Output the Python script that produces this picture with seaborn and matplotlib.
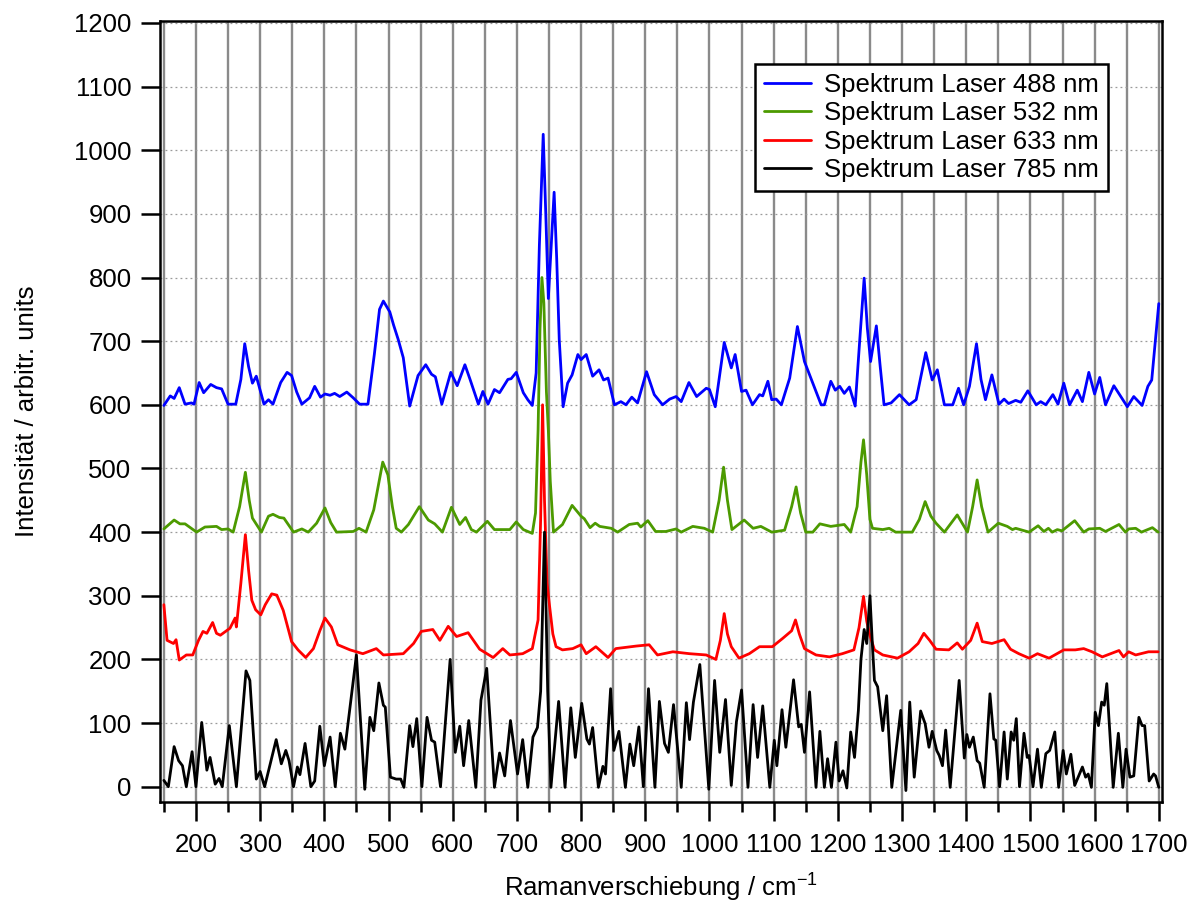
import numpy as np
import pandas as pd
import matplotlib
matplotlib.use("Agg")
import matplotlib.pyplot as plt
import seaborn as sns

# ---------------- data ----------------
labels = ["Spektrum Laser 488 nm", "Spektrum Laser 532 nm",
          "Spektrum Laser 633 nm", "Spektrum Laser 785 nm"]
colors = ["#0000FF", "#4C9A00", "#FF0000", "#000000"]

x_488 = [150, 160, 166, 174, 183, 193, 197, 205, 212, 223, 232, 240, 250, 262, 270, 276, 282, 288, 294, 306,
         313, 320, 332, 342, 349, 357, 365, 377, 385, 394, 401, 409, 416, 424, 435, 445, 455, 468, 478, 486,
         492, 502, 508, 515, 523, 533, 546, 558, 567, 573, 583, 597, 607, 619, 627, 640, 647, 655, 665, 673,
         686, 691, 699, 710, 717, 724, 730, 735, 741, 745, 749, 753, 758, 762, 766, 772, 779, 786, 795, 800,
         808, 818, 828, 835, 842, 852, 862, 870, 879, 888, 902, 914, 927, 938, 948, 956, 968, 980, 995, 1000,
         1009, 1023, 1034, 1040, 1050, 1057, 1067, 1078, 1083, 1091, 1097, 1104, 1112, 1125, 1137, 1148, 1158,
         1174, 1179, 1189, 1196, 1203, 1210, 1218, 1227, 1234, 1241, 1246, 1251, 1260, 1266, 1272, 1283, 1296,
         1311, 1322, 1337, 1347, 1355, 1366, 1379, 1388, 1396, 1405, 1416, 1423, 1430, 1440, 1451, 1459, 1466,
         1477, 1485, 1496, 1509, 1516, 1524, 1535, 1543, 1552, 1561, 1573, 1581, 1591, 1600, 1608, 1617, 1630,
         1651, 1661, 1674, 1683, 1689, 1700]
y_488 = [599, 614, 610, 627, 601, 603, 601, 635, 619, 632, 627, 625, 601, 601, 640, 696, 660, 634, 645, 601,
         608, 601, 635, 651, 646, 620, 601, 611, 629, 612, 617, 615, 618, 613, 620, 611, 601, 601, 680, 750,
         763, 746, 725, 703, 674, 598, 646, 663, 648, 644, 601, 651, 630, 663, 640, 601, 621, 601, 624, 619,
         640, 641, 651, 619, 608, 599, 650, 850, 1025, 900, 767, 840, 934, 830, 702, 597, 634, 647, 679, 671,
         679, 645, 655, 639, 642, 600, 605, 600, 612, 603, 652, 616, 600, 609, 613, 605, 635, 613, 626, 624,
         597, 698, 658, 679, 621, 623, 600, 616, 614, 637, 608, 609, 600, 642, 723, 668, 642,
         600, 600, 637, 623, 629, 618, 628, 598, 700, 799, 720, 668, 724, 660, 600, 603, 616,
         600, 608, 682, 639, 655, 600, 600, 626, 600, 629, 696, 640, 608, 647, 601, 609, 602,
         607, 604, 622, 600, 605, 600, 616, 601, 634, 600, 623, 605, 651, 617, 643, 600, 630,
         597, 613, 599, 629, 639, 759]

x_532 = [150, 166, 175, 183, 201, 214, 232, 240, 250, 258, 268, 277, 283, 288, 302, 313, 320, 330, 337, 352,
         365, 375, 388, 401, 410, 419, 445, 454, 465, 477, 491, 499, 506, 512, 520, 531, 548, 562, 572, 584,
         598, 611, 620, 629, 637, 654, 665, 689, 699, 710, 724, 729, 733, 736, 739, 742, 746, 749, 752, 757,
         771, 786, 800, 805, 814, 822, 829, 847, 857, 875, 888, 893, 904, 916, 932, 948, 956, 974, 992, 1005,
         1015, 1022, 1028, 1035, 1054, 1068, 1080, 1097, 1117, 1128, 1135, 1142, 1150, 1161, 1172, 1189, 1210,
         1220, 1230, 1236, 1240, 1245, 1250, 1254, 1270, 1280, 1290, 1316, 1327, 1336, 1345, 1353, 1366, 1386,
         1402, 1410, 1417, 1424, 1434, 1450, 1464, 1472, 1477, 1498, 1512, 1521, 1528, 1534, 1542, 1549, 1569,
         1583, 1591, 1608, 1617, 1638, 1648, 1653, 1664, 1673, 1690, 1699]
y_532 = [405, 419, 413, 413, 400, 408, 409, 404, 405, 400, 440, 494, 450, 422, 400, 425, 428, 423, 422, 400,
         405, 400, 414, 438, 415, 400, 401, 406, 400, 435, 510, 490, 440, 406, 400, 412, 440, 419, 413, 400,
         439, 412, 423, 404, 400, 417, 404, 404, 416, 404, 398, 430, 560, 720, 800, 760, 620, 560, 480, 400,
         412, 442, 425, 421, 407, 414, 409, 406, 400, 412, 414, 408, 418, 401, 401, 405, 400, 409, 406, 400,
         450, 502, 450, 404, 419, 406, 409, 400, 403, 440, 471, 430, 400, 400, 413, 409, 412,
         400, 440, 510, 545, 490, 420, 406, 404, 406, 400, 400, 420, 448, 425, 414, 400, 427,
         400, 440, 482, 440, 400, 414, 409, 404, 406, 400, 410, 401, 406, 400, 404, 402, 418,
         400, 405, 406, 401, 412, 400, 405, 406, 400, 407, 400]

x_633 = [150, 155, 165, 169, 174, 185, 195, 204, 211, 217, 226, 232, 238, 253, 261, 263, 270, 277, 282, 287,
         293, 301, 308, 318, 326, 336, 349, 359, 371, 383, 393, 401, 411, 421, 440, 460, 481, 492, 523, 539,
         551, 569, 580, 593, 606, 624, 642, 663, 678, 689, 709, 724, 733, 737, 740, 743, 747, 751, 756, 761,
         771, 787, 800, 808, 823, 842, 854, 870, 886, 906, 919, 943, 969, 995, 1010, 1017, 1023, 1028, 1034,
         1046, 1062, 1078, 1098, 1114, 1128, 1134, 1140, 1148, 1166, 1187, 1207, 1225, 1233, 1240, 1245, 1249,
         1257, 1270, 1293, 1311, 1325, 1334, 1343, 1353, 1373, 1386, 1394, 1407, 1417, 1425, 1440, 1459, 1469,
         1482, 1498, 1511, 1529, 1552, 1570, 1583, 1596, 1612, 1638, 1645, 1653, 1664, 1684, 1699]
y_633 = [286, 230, 225, 231, 199, 207, 207, 230, 244, 241, 258, 241, 238, 249, 265, 251, 320, 396, 340, 293,
         278, 270, 286, 303, 301, 277, 228, 215, 203, 217, 245, 265, 251, 223, 215, 209, 217, 207, 209, 225,
         244, 247, 230, 252, 236, 242, 216, 203, 217, 207, 209, 217, 262, 420, 600, 450, 320, 283, 240, 220,
         215, 217, 223, 209, 220, 203, 217, 219, 221, 223, 207, 212, 209, 207, 200, 230, 272, 240, 220,
         202, 209, 220, 220, 233, 245, 262, 240, 217, 207, 204, 209, 215, 250, 299, 260, 241,
         215, 207, 202, 212, 225, 241, 230, 216, 215, 226, 216, 230, 257, 228, 225, 231, 216,
         209, 202, 209, 202, 215, 215, 217, 212, 204, 214, 204, 212, 207, 212, 212]

x_785 = [150, 157, 166, 173, 179, 185, 194, 200, 209, 217, 222, 230, 236, 241, 252, 263, 278, 284, 294, 300,
         307, 325, 333, 340, 345, 352, 358, 362, 370, 379, 385, 393, 400, 409, 417, 425, 432, 450, 463, 471,
         477, 485, 492, 495, 503, 512, 519, 524, 533, 538, 544, 552, 560, 567, 572, 581, 596, 604, 611, 617,
         625, 636, 644, 653, 665, 673, 681, 690, 701, 709, 717, 725, 732, 737, 743, 748, 753, 765, 775, 784,
         791, 801, 809, 813, 818, 827, 834, 838, 846, 851, 859, 869, 876, 882, 890, 897, 905, 915, 922, 930,
         936, 944, 956, 964, 969, 975, 985, 999, 1008, 1016, 1025, 1034, 1042, 1050, 1060, 1068, 1075, 1083,
         1094, 1101, 1105, 1113, 1119, 1131, 1139, 1143, 1148, 1156, 1166, 1172, 1179, 1184, 1190, 1197, 1202,
         1208, 1214, 1220, 1226, 1232, 1236, 1241, 1245, 1250, 1254, 1257, 1262, 1270, 1276, 1284, 1298, 1306,
         1312, 1319, 1329, 1336, 1342, 1347, 1354, 1358, 1363, 1368, 1375, 1389, 1397, 1401, 1405, 1411, 1417,
         1421, 1428, 1437, 1443, 1446, 1452, 1459, 1464, 1470, 1474, 1478, 1483, 1490, 1495, 1498, 1504, 1511,
         1517, 1524, 1530, 1538, 1544, 1551, 1556, 1563, 1569, 1581, 1586, 1590, 1595, 1601, 1606, 1611, 1615,
         1619, 1629, 1637, 1644, 1649, 1655, 1661, 1669, 1674, 1678, 1685, 1692, 1695, 1700]
y_785 = [10, 0, 63, 41, 33, 0, 55, 0, 101, 26, 46, 4, 13, 0, 96, 0, 182, 167, 12, 24,
         0, 74, 36, 57, 41, 0, 31, 19, 68, 0, 9, 95, 33, 78, 0, 84, 59, 207, -4, 109,
         88, 163, 128, 125, 15, 12, 12, -1, 96, 63, 107, 0, 109, 73, 70, 0, 200, 54, 95, 33,
         104, -1, 136, 186, -1, 53, 17, 104, 20, 74, -1, 78, 93, 150, 400, 150, -1, 134, -1, 124,
         46, 131, 75, 67, 93, -1, 32, 20, 154, 57, 87, -1, 67, 33, 94, 0, 154, -1, 134, 68,
         54, 129, -1, 132, 74, 133, 192, -4, 167, 54, 137, 2, 102, 152, -1, 129, 46, 127,
         -1, 73, 33, 121, 62, 168, 94, 98, 54, 149, -1, 87, -1, 44, -1, 70, 9,
         25, -2, 86, 46, 120, 200, 247, 225, 300, 220, 167, 157, 88, 143, -1, 120, -6,
         133, 15, 119, 99, 62, 87, 57, 49, 33, 89, -1, 167, 45, 82, 62, 78, 41,
         37, -1, 146, 75, 73, 0, 86, 12, 86, 73, 107, 0, 84, 46, 49, 0, 59,
         -1, 52, 57, 86, -1, 57, 20, 51, 2, 31, 15, 20, -1, 117, 96, 133, 128,
         162, -1, 84, -1, 59, 15, 17, 109, 96, 96, 9, 20, 17, -1]

x_ticks = list(range(200, 1701, 100))
y_ticks = list(range(0, 1201, 100))

# ---------------- build long table ----------------
frames = []
for lab, xs, ys in zip(labels, [x_488, x_532, x_633, x_785], [y_488, y_532, y_633, y_785]):
    frames.append(pd.DataFrame({"x": xs, "y": ys, "series": lab}))
df = pd.concat(frames, ignore_index=True)

# ---------------- style ----------------
sns.set_style("ticks")
plt.rcParams["font.family"] = ["Liberation Sans", "DejaVu Sans"]
plt.rcParams["mathtext.default"] = "regular"
plt.rcParams["text.color"] = "black"
plt.rcParams["axes.labelcolor"] = "black"
plt.rcParams["xtick.color"] = "black"
plt.rcParams["ytick.color"] = "black"

fig = plt.figure(figsize=(11.91, 9.02), dpi=100)
ax = fig.add_axes([160 / 1191, 100 / 902, 1002 / 1191, 781 / 902])

sns.lineplot(data=df, x="x", y="y", hue="series", hue_order=labels,
             palette=dict(zip(labels, colors)), sort=False, estimator=None,
             linewidth=2.0, ax=ax, legend=True)

ax.set_xlim(144, 1705)
ax.set_ylim(-24, 1203)
ax.set_xticks(x_ticks)
ax.set_xticks(list(range(150, 1701, 100)), minor=True)
ax.set_yticks(y_ticks)

ax.set_axisbelow(True)
ax.grid(axis="x", which="both", color="#8a8a8a", linewidth=1.7, linestyle="-")
ax.grid(axis="y", which="major", color="#9a9a9a", linewidth=0.9, linestyle=(0, (1.5, 2.5)))

for sp in ax.spines.values():
    sp.set_visible(True)
    sp.set_linewidth(1.8)
    sp.set_color("black")

ax.tick_params(axis="x", which="major", length=14, width=1.8, direction="out",
               labelsize=18.5, pad=8, color="black", labelcolor="black")
ax.tick_params(axis="x", which="minor", length=7, width=1.8, direction="out", color="black")
ax.tick_params(axis="y", which="major", length=13.5, width=1.8, direction="out",
               labelsize=18.5, pad=7, color="black", labelcolor="black")

ax.set_xlabel("Ramanverschiebung / cm$^{-1}$", fontsize=18.5, color="black")
ax.set_ylabel("Intensität / arbitr. units", fontsize=18.5, color="black")
ax.xaxis.set_label_coords(0.5, -0.089)
ax.yaxis.set_label_coords(-0.121, 0.5)

handles, labs = ax.get_legend_handles_labels()
leg = ax.legend(handles, labs, loc="upper right", bbox_to_anchor=(0.946, 0.945),
                borderaxespad=0, fontsize=18.5, frameon=True, fancybox=False,
                framealpha=1, edgecolor="black", handlelength=1.85, handletextpad=0.5,
                labelspacing=0.17, borderpad=0.35)
leg.get_frame().set_linewidth(1.8)
for t in leg.get_texts():
    t.set_color("black")
for h in leg.get_lines():
    h.set_linewidth(2.0)

fig.savefig("out.png", dpi=100)
